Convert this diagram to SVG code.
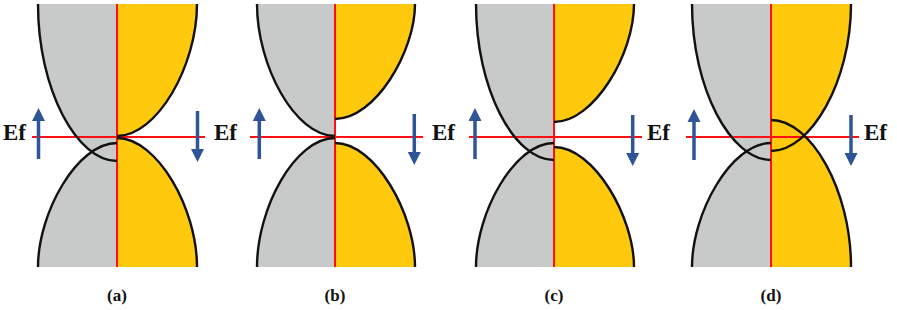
<svg xmlns="http://www.w3.org/2000/svg" xmlns:xlink="http://www.w3.org/1999/xlink" width="897" height="310" viewBox="0 0 897 310">
<style>
.gr{fill:#C8C9C9;stroke:none}
.ye{fill:#FFC90E;stroke:none}
.cv{fill:none;stroke:#111;stroke-width:2.4}
.rd{stroke:#FF1010;stroke-width:2;fill:none}
.ar{fill:#2E5597}
.ef{font-family:"Liberation Serif","Times New Roman",serif;font-weight:bold;font-size:23px;fill:#111}
.lb{font-family:"Liberation Serif","Times New Roman",serif;font-weight:bold;font-size:17px;fill:#111;text-anchor:middle}
</style>
<defs>
<path id="arr" d="M0,0 L6.5,13 L1.75,13 L1.75,51 L-1.75,51 L-1.75,13 L-6.5,13 Z"/>
</defs>
<rect width="897" height="310" fill="#fff"/>

<g id="panel-a">
<path class="gr" d="M117,161 C77,161 38,90 38,4 L117,4 Z"/>
<path class="gr" d="M117,143 C77,143 38,213 38,267 L117,267 Z"/>
<path class="ye" d="M117,136 C157,136 197,66 197,4 L117,4 Z"/>
<path class="ye" d="M117,138 C157,138 197,208 197,267 L117,267 Z"/>
<line class="rd" x1="117" y1="4" x2="117" y2="267"/>
<line class="rd" x1="32" y1="137" x2="205" y2="137"/>
<path class="cv" d="M117,161 C77,161 38,90 38,4"/>
<path class="cv" d="M117,143 C77,143 38,213 38,267"/>
<path class="cv" d="M117,136 C157,136 197,66 197,4"/>
<path class="cv" d="M117,138 C157,138 197,208 197,267"/>
<use xlink:href="#arr" class="ar" transform="translate(38.5,108)"/>
<use xlink:href="#arr" class="ar" transform="translate(197.5,162) rotate(180)"/>
<text class="lb" x="117" y="301">(a)</text>
</g>

<g id="panel-b">
<path class="gr" d="M335,136 C295,136 257,66 257,4 L335,4 Z"/>
<path class="gr" d="M335,138 C295,138 257,208 257,267 L335,267 Z"/>
<path class="ye" d="M335,119 C375,119 415,52 415,4 L335,4 Z"/>
<path class="ye" d="M335,143 C375,143 415,213 415,267 L335,267 Z"/>
<line class="rd" x1="335" y1="4" x2="335" y2="267"/>
<line class="rd" x1="250" y1="137" x2="423" y2="137"/>
<path class="cv" d="M335,136 C295,136 257,66 257,4"/>
<path class="cv" d="M335,138 C295,138 257,208 257,267"/>
<path class="cv" d="M335,119 C375,119 415,52 415,4"/>
<path class="cv" d="M335,143 C375,143 415,213 415,267"/>
<use xlink:href="#arr" class="ar" transform="translate(259.3,108)"/>
<use xlink:href="#arr" class="ar" transform="translate(414.3,165) rotate(180)"/>
<text class="lb" x="335" y="301">(b)</text>
</g>

<g id="panel-c">
<path class="gr" d="M554,160 C514,160 476,89 476,4 L554,4 Z"/>
<path class="gr" d="M554,143 C514,143 476,213 476,267 L554,267 Z"/>
<path class="ye" d="M554,122 C594,122 634,54 634,4 L554,4 Z"/>
<path class="ye" d="M554,147 C594,147 634,217 634,267 L554,267 Z"/>
<line class="rd" x1="554" y1="4" x2="554" y2="267"/>
<line class="rd" x1="469" y1="137" x2="642" y2="137"/>
<path class="cv" d="M554,160 C514,160 476,89 476,4"/>
<path class="cv" d="M554,143 C514,143 476,213 476,267"/>
<path class="cv" d="M554,122 C594,122 634,54 634,4"/>
<path class="cv" d="M554,147 C594,147 634,217 634,267"/>
<use xlink:href="#arr" class="ar" transform="translate(475,108)"/>
<use xlink:href="#arr" class="ar" transform="translate(632.7,166) rotate(180)"/>
<text class="lb" x="554" y="301">(c)</text>
</g>

<g id="panel-d">
<path class="gr" d="M771,160 C731,160 692,89 692,4 L771,4 Z"/>
<path class="gr" d="M771,143 C731,143 692,213 692,267 L771,267 Z"/>
<path class="ye" d="M771,151 C811,151 851,81 851,4 L771,4 Z"/>
<path class="ye" d="M771,120 C811,120 851,190 851,267 L771,267 Z"/>
<line class="rd" x1="771" y1="4" x2="771" y2="267"/>
<line class="rd" x1="686" y1="137" x2="859" y2="137"/>
<path class="cv" d="M771,160 C731,160 692,89 692,4"/>
<path class="cv" d="M771,143 C731,143 692,213 692,267"/>
<path class="cv" d="M771,151 C811,151 851,81 851,4"/>
<path class="cv" d="M771,120 C811,120 851,190 851,267"/>
<use xlink:href="#arr" class="ar" transform="translate(694,109)"/>
<use xlink:href="#arr" class="ar" transform="translate(851,166) rotate(180)"/>
<text class="lb" x="771" y="301">(d)</text>
</g>

<g id="ef-labels">
<text class="ef" x="3" y="139.5">Ef</text>
<text class="ef" x="214" y="139.5">Ef</text>
<text class="ef" x="432" y="139.5">Ef</text>
<text class="ef" x="647" y="139.5">Ef</text>
<text class="ef" x="864" y="139.5">Ef</text>
</g>
</svg>
